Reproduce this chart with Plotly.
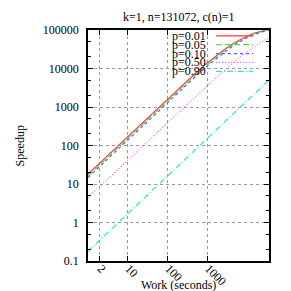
import plotly.graph_objects as go

work = [1, 2, 5, 10, 20, 50, 100, 200, 500, 1000, 2000, 3000, 5000, 7000,
        10000, 15000, 20000, 25000, 35000]
sp_001 = [18.1, 35.7, 87.6, 173, 341, 832, 1630, 3180, 7530, 14070, 25140,
          34200, 48250, 58690, 70070, 82700, 90940, 96760, 104450]
sp_005 = [16.5, 32.5, 79.9, 157.6, 311, 759, 1488, 2902, 6903, 12950, 23310,
          31910, 45460, 55720, 67050, 79840, 88320, 94360, 102430]
sp_010 = [14.8, 29.2, 71.6, 141.3, 278.8, 681, 1336, 2610, 6226, 11730, 21300,
          29360, 42290, 52260, 63480, 76410, 85130, 91420, 99920]
sp_050 = [4.45, 8.75, 21.4, 42.0, 82.6, 201.8, 395, 775, 1878, 3640, 6970,
          10080, 15860, 21000, 27840, 37490, 45420, 52060, 62640]
sp_090 = [0.179, 0.354, 0.871, 1.72, 3.40, 8.38, 16.55, 32.7, 80.5, 159.2,
          313.7, 467, 770, 1070, 1513, 2242, 2957, 3663, 5041]

labels = ["p=0.01", "p=0.05", "p=0.10", "p=0.50", "p=0.90"]
series = [sp_001, sp_005, sp_010, sp_050, sp_090]
colors = ["#ff3b3b", "#4fe04f", "#5a5aff", "#ff5cff", "#2ee0e0"]
dashes = ["solid", "6px,3px", "3px,3px", "1px,2px", "6px,2px,1px,2px"]

x_tickvals = [2, 10, 100, 1000]
x_ticktext = ["2", "10", "100", "1000"]
y_tickvals = [0.1, 1, 10, 100, 1000, 10000, 100000]
y_ticktext = ["0.1", "1", "10", "100", "1000", "10000", "100000"]

FONT = "Liberation Serif, Times New Roman, serif"

fig = go.Figure()
for lab, ys, col, dsh in zip(labels, series, colors, dashes):
    fig.add_trace(go.Scatter(x=work, y=ys, mode="lines", name=lab,
                             line=dict(color=col, width=1.2, dash=dsh),
                             showlegend=False, hoverinfo="skip"))

# opaque key box (hides grid, not curves)
shapes = [dict(type="rect", xref="paper", yref="paper", x0=0.41, x1=1.0,
               y0=0.797, y1=0.993, fillcolor="white", line=dict(width=0),
               layer="between")]
annotations = []
row_y0 = 0.975
row_dy = 0.0385
for i, (lab, col, dsh) in enumerate(zip(labels, colors, dashes)):
    yy = row_y0 - i * row_dy
    annotations.append(dict(text=lab, xref="paper", yref="paper", x=0.657, y=yy,
                            xanchor="right", yanchor="middle", showarrow=False,
                            borderpad=0,
                            font=dict(family=FONT, size=12, color="black")))
    shapes.append(dict(type="line", xref="paper", yref="paper", x0=0.707, x1=0.912,
                       y0=yy, y1=yy, line=dict(color=col, width=1.2, dash=dsh),
                       layer="above"))

annotations.append(dict(text="Speedup", xref="paper", yref="paper", x=-0.376, y=0.5,
                        textangle=-90, xanchor="center", yanchor="middle",
                        showarrow=False, font=dict(family=FONT, size=12, color="black")))
annotations.append(dict(text="Work (seconds)", xref="paper", yref="paper", x=0.5, y=-0.105,
                        xanchor="center", yanchor="middle", showarrow=False,
                        borderpad=0,
                        font=dict(family=FONT, size=12, color="black")))
annotations.append(dict(text="k=1, n=131072, c(n)=1", xref="paper", yref="paper",
                        x=0.5, y=1.0 + 21.5 / 231, xanchor="center", yanchor="top",
                        showarrow=False, borderpad=0,
                        font=dict(family=FONT, size=12, color="black")))

# the page body adds an 8px offset; margins compensate so the plot box lands at 88..269 x 30..261
fig.update_layout(
    width=291, height=291,
    margin=dict(l=80, r=30, t=22, b=38, autoexpand=False),
    paper_bgcolor="white", plot_bgcolor="white",
    font=dict(family=FONT, size=12, color="black"),
    shapes=shapes, annotations=annotations,
    showlegend=False,
)
fig.update_xaxes(type="log", range=[0, 4.544], tickvals=x_tickvals, ticktext=x_ticktext,
                 tickangle=45, ticks="inside", ticklen=5, tickwidth=1, tickcolor="black",
                 showline=True, linecolor="black", linewidth=1.5, mirror="ticks",
                 showgrid=True, gridcolor="#9a9a9a", griddash="dot", gridwidth=1,
                 zeroline=False, automargin=False, ticklabelstandoff=-6,
                 ticklabelshift=1,
                 tickfont=dict(family=FONT, size=12, color="black"))
fig.update_yaxes(type="log", range=[-1, 5], tickvals=y_tickvals, ticktext=y_ticktext,
                 ticks="inside", ticklen=5, tickwidth=1, tickcolor="black",
                 showline=True, linecolor="black", linewidth=1.5, mirror="ticks",
                 showgrid=True, gridcolor="#9a9a9a", griddash="dot", gridwidth=1,
                 zeroline=False, ticklabelstandoff=5, automargin=False,
                 minor=dict(ticks="inside", ticklen=3, dtick="D2", tickcolor="black",
                            showgrid=False),
                 tickfont=dict(family=FONT, size=12, color="black"))

fig.write_html("out.html")
